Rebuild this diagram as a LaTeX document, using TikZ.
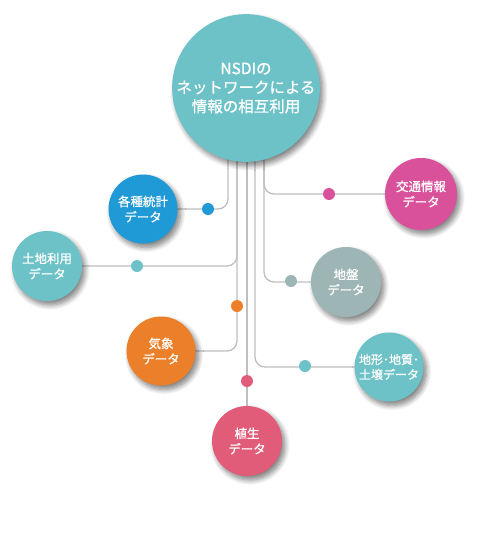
\documentclass[tikz,border=0pt]{standalone}
\usepackage{fontspec}
\newfontfamily\jp[FakeBold=0.8]{Noto Sans CJK JP}
\usetikzlibrary{shadows.blur}
\pgfdeclarelayer{bg}
\pgfsetlayers{bg,main}
\definecolor{cteal}{HTML}{6DC2C7}
\definecolor{cblue}{HTML}{1F9AD6}
\definecolor{cpink}{HTML}{D9519A}
\definecolor{cgray}{HTML}{9DB5B4}
\definecolor{corange}{HTML}{EB7F2A}
\definecolor{cred}{HTML}{E05C78}
\definecolor{cline}{HTML}{BEBEBE}
\begin{document}
\begin{tikzpicture}[x=1pt,y=-1pt,
  bubble/.style={circle, minimum size=#1, inner sep=0pt, text=white, align=center,
    font=\jp\fontsize{12.5}{15.5}\selectfont,
    blur shadow={shadow xshift=3pt, shadow yshift=-4pt, shadow blur radius=5pt,
      shadow blur steps=8, shadow opacity=50}},
  dot/.style={circle, inner sep=0pt, minimum size=12pt},
  conn/.style={draw=cline, line width=1.3pt, rounded corners=10pt}]
\useasboundingbox (0,0) rectangle (482,536);
% nodes
\node[bubble=142pt, fill=cteal, font=\jp\fontsize{15.5}{19}\selectfont] (main) at (246,88)
  {NSDIの\\ネットワークによる\\情報の相互利用};
\node[bubble=69pt, fill=cblue] (stat) at (143,209) {各種統計\\データ};
\node[bubble=70pt, fill=cteal] (land) at (47,266) {土地利用\\データ};
\node[bubble=72pt, fill=cpink] (traffic) at (421,194) {交通情報\\データ};
\node[bubble=70pt, fill=cgray] (ground) at (346,282) {地盤\\データ};
\node[bubble=69pt, fill=corange] (weather) at (161,351) {気象\\データ};
\node[bubble=69pt, fill=cteal, font=\jp\fontsize{12}{15}\selectfont] (geo) at (389,367) {地形･地質･\\土壌データ};
\node[bubble=70pt, fill=cred] (veg) at (247,441) {植生\\データ};
% dots
\node[dot, fill=cblue] (dstat) at (208,209) {};
\node[dot, fill=cteal] (dland) at (137,266) {};
\node[dot, fill=cpink] (dtraffic) at (329,194) {};
\node[dot, fill=cgray] (dground) at (291,281) {};
\node[dot, fill=corange] (dweather) at (237,306) {};
\node[dot, fill=cteal] (dgeo) at (305,366) {};
\node[dot, fill=cred] (dveg) at (247,381) {};
% connectors
\begin{pgfonlayer}{bg}
\draw[conn] (stat.center) -| ([xshift=-18pt]main.center);
\draw[conn] (land.center) -| ([xshift=-9pt]main.center);
\draw[conn] (weather.center) -| ([xshift=-9pt]main.center);
\draw[conn] (veg.center) -- ([xshift=1pt]main.center);
\draw[conn] (geo.center) -| ([xshift=9pt]main.center);
\draw[conn] (traffic.center) -| ([xshift=18pt]main.center);
\draw[conn] (ground.center) -| ([xshift=18pt]main.center);
\end{pgfonlayer}
\end{tikzpicture}
\end{document}
